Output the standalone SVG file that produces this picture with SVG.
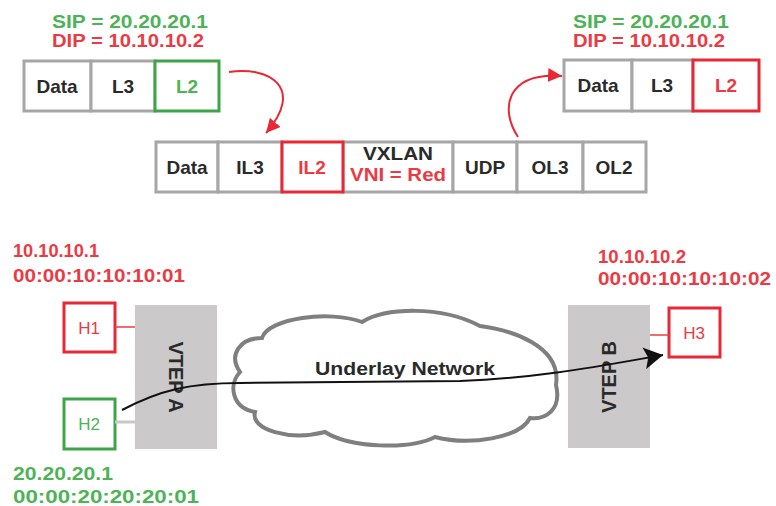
<svg xmlns="http://www.w3.org/2000/svg" width="776" height="506" viewBox="0 0 776 506">
<defs>
<style>
text{font-family:"Liberation Sans",Arial,sans-serif;font-weight:bold;}
.g{fill:#4db356;}
.r{fill:#ec3a44;}
.k{fill:#2a2a2a;}
.cell{fill:#fff;stroke:#a6a6a6;stroke-width:3;}
.gb{fill:#fff;stroke:#3da548;stroke-width:3;}
.rb{fill:#fff;stroke:#e82834;stroke-width:3;}
.lbl{font-size:19px;text-anchor:middle;}
.addr{font-size:18px;}
.h{font-size:17px;text-anchor:middle;font-weight:normal;}
.vtep{fill:#cbc9ca;}
</style>
<marker id="ra" markerUnits="userSpaceOnUse" markerWidth="16" markerHeight="14" refX="14" refY="7" orient="auto">
<path d="M0,0 L14,7 L0,14 Z" fill="#e82834"/>
</marker>
<marker id="ka" markerUnits="userSpaceOnUse" markerWidth="20" markerHeight="22" refX="19" refY="11" orient="auto">
<path d="M0,0 L19,11 L0,22 L4,11 Z" fill="#111"/>
</marker>
</defs>

<g id="frame-left">
<text class="g addr" x="52" y="28" textLength="156" lengthAdjust="spacingAndGlyphs">SIP = 20.20.20.1</text>
<text class="r addr" x="52" y="47" textLength="152" lengthAdjust="spacingAndGlyphs">DIP = 10.10.10.2</text>
<rect class="cell" x="24" y="61" width="67" height="50"/>
<rect class="cell" x="91" y="61" width="64" height="50"/>
<rect class="gb" x="155" y="61" width="64" height="50"/>
<text class="k lbl" x="57" y="93">Data</text>
<text class="k lbl" x="123" y="93">L3</text>
<text class="g lbl" x="187" y="93">L2</text>
</g>

<g id="frame-right">
<text class="g addr" x="573" y="28" textLength="156" lengthAdjust="spacingAndGlyphs">SIP = 20.20.20.1</text>
<text class="r addr" x="573" y="47" textLength="152" lengthAdjust="spacingAndGlyphs">DIP = 10.10.10.2</text>
<rect class="cell" x="564" y="60" width="68" height="51"/>
<rect class="cell" x="632" y="60" width="61" height="51"/>
<rect class="rb" x="693" y="60" width="66" height="51"/>
<text class="k lbl" x="598" y="92">Data</text>
<text class="k lbl" x="662" y="92">L3</text>
<text class="r lbl" x="726" y="92">L2</text>
</g>

<g id="frame-vxlan">
<rect class="cell" x="156" y="142" width="62" height="50"/>
<rect class="cell" x="218" y="142" width="64" height="50"/>
<rect class="cell" x="343" y="142" width="110" height="50"/>
<rect class="cell" x="453" y="142" width="64" height="50"/>
<rect class="cell" x="517" y="142" width="66" height="50"/>
<rect class="cell" x="583" y="142" width="63" height="50"/>
<rect class="rb" x="282" y="142" width="61" height="50"/>
<text class="k lbl" x="187" y="174">Data</text>
<text class="k lbl" x="250" y="174">IL3</text>
<text class="r lbl" x="312" y="174">IL2</text>
<text class="k lbl" x="398" y="160" textLength="70" lengthAdjust="spacingAndGlyphs">VXLAN</text>
<text class="r lbl" x="398" y="181" textLength="96" lengthAdjust="spacingAndGlyphs">VNI = Red</text>
<text class="k lbl" x="485" y="174">UDP</text>
<text class="k lbl" x="550" y="174">OL3</text>
<text class="k lbl" x="614" y="174">OL2</text>
</g>

<g id="h1">
<text class="r addr" x="13" y="257" textLength="86" lengthAdjust="spacingAndGlyphs">10.10.10.1</text>
<text class="r addr" x="13" y="282" textLength="172" lengthAdjust="spacingAndGlyphs">00:00:10:10:10:01</text>
<rect class="rb" x="64" y="303" width="51" height="49"/>
<text class="r h" x="89" y="334">H1</text>
</g>

<g id="h2">
<rect class="gb" x="64" y="399" width="51" height="50"/>
<text class="g h" x="89" y="430">H2</text>
<text class="g addr" x="13" y="480" textLength="100" lengthAdjust="spacingAndGlyphs">20.20.20.1</text>
<text class="g addr" x="13" y="503" textLength="186" lengthAdjust="spacingAndGlyphs">00:00:20:20:20:01</text>
</g>

<g id="vtep-a">
<rect class="vtep" x="135" y="305" width="82" height="144"/>
<text class="k" x="0" y="0" font-size="20" text-anchor="middle" transform="translate(169,377) rotate(90)">VTEP A</text>
</g>

<g id="cloud">
<path d="M240,372 C228,355 240,338 262,338 C268,318 330,310 362,322 C385,308 440,305 480,326 C510,330 562,345 556,385 C562,410 545,420 530,418 C520,438 470,446 435,437 C410,450 350,448 325,432 C290,441 250,430 255,412 C232,408 228,385 240,372 Z" fill="#fff" stroke="#7f7f7f" stroke-width="4"/>
<text class="k" x="405" y="375" font-size="18" text-anchor="middle" textLength="180" lengthAdjust="spacingAndGlyphs">Underlay Network</text>
</g>

<g id="vtep-b">
<rect class="vtep" x="568" y="305" width="82" height="143"/>
<text class="k" x="0" y="0" font-size="20" text-anchor="middle" transform="translate(616,377) rotate(-90)">VTEP B</text>
</g>

<g id="h3">
<text class="r addr" x="598" y="263" textLength="88" lengthAdjust="spacingAndGlyphs">10.10.10.2</text>
<text class="r addr" x="598" y="285" textLength="173" lengthAdjust="spacingAndGlyphs">00:00:10:10:10:02</text>
<rect class="rb" x="669" y="308" width="51" height="49"/>
<text class="r h" x="694" y="339">H3</text>
</g>

<g id="connectors">
<line x1="115" y1="327" x2="135" y2="327" stroke="#ec3a44" stroke-width="1.5"/>
<line x1="115" y1="422" x2="135" y2="422" stroke="#c8c8c8" stroke-width="3"/>
<line x1="650" y1="335" x2="669" y2="335" stroke="#ec3a44" stroke-width="1.5"/>
<path d="M229,72 C270,66 305,88 266,133" fill="none" stroke="#e82834" stroke-width="2" marker-end="url(#ra)"/>
<path d="M518,137 C500,110 505,72 562,76" fill="none" stroke="#e82834" stroke-width="2" marker-end="url(#ra)"/>
<path d="M122,410 C160,390 190,383 240,383 L460,381 C540,378 600,366 663,355" fill="none" stroke="#111" stroke-width="2" marker-end="url(#ka)"/>
</g>
</svg>
